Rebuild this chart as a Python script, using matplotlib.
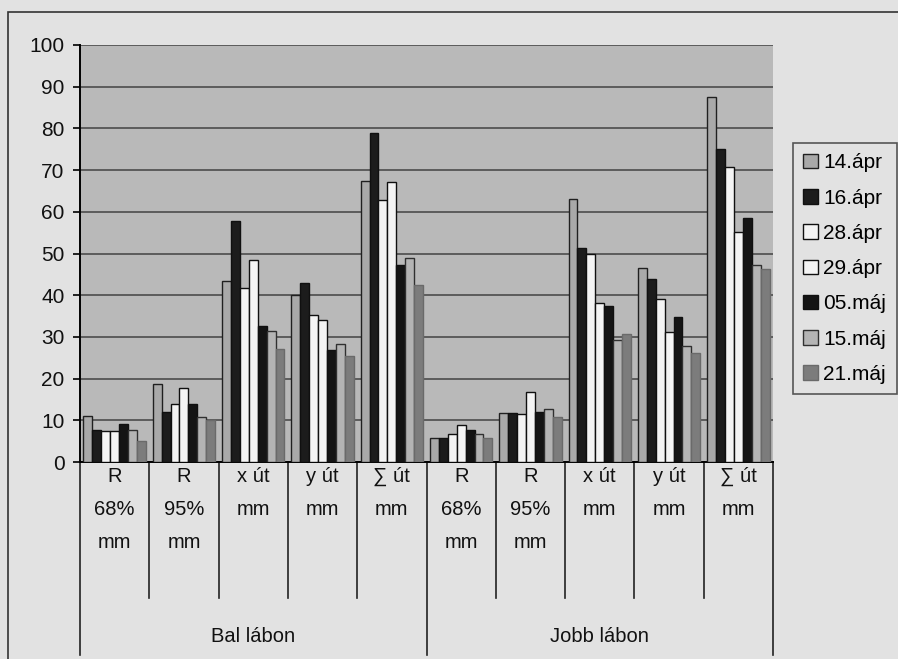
import numpy as np
import matplotlib
matplotlib.use("Agg")
from matplotlib import pyplot as plt
from matplotlib.patches import Rectangle
import matplotlib.transforms as mtransforms

plt.rcParams['font.family'] = ['Liberation Sans Narrow', 'Liberation Sans', 'DejaVu Sans']

# measurements per session, 10 categories (5 left foot, 5 right foot)
categories = ["R\n68%\nmm", "R\n95%\nmm", "x út\nmm", "y út\nmm", "∑ út\nmm",
              "R\n68%\nmm", "R\n95%\nmm", "x út\nmm", "y út\nmm", "∑ út\nmm"]
groups = ["Bal lábon", "Jobb lábon"]
dates = ["14.ápr", "16.ápr", "28.ápr", "29.ápr", "05.máj", "15.máj", "21.máj"]

apr14 = [11.0, 18.6, 43.3, 40.0, 67.3, 5.7, 11.8, 63.0, 46.5, 87.5]
apr16 = [7.7, 12.1, 57.8, 42.9, 79.0, 5.7, 11.8, 51.2, 43.8, 75.0]
apr28 = [7.5, 13.8, 41.7, 35.3, 62.9, 6.7, 11.4, 50.0, 39.1, 70.8]
apr29 = [7.5, 17.8, 48.5, 34.1, 67.1, 8.9, 16.9, 38.2, 31.1, 55.2]
maj05 = [9.1, 13.8, 32.5, 26.8, 47.3, 7.7, 12.1, 37.5, 34.8, 58.6]
maj15 = [7.7, 10.9, 31.3, 28.2, 48.9, 6.7, 12.7, 29.2, 27.8, 47.2]
maj21 = [5.0, 10.1, 27.0, 25.4, 42.5, 5.8, 10.9, 30.6, 26.2, 46.2]
series = [apr14, apr16, apr28, apr29, maj05, maj15, maj21]

colors = ["#a9a9a9", "#1c1c1c", "#f4f4f4", "#f4f4f4", "#141414", "#b4b4b4", "#7c7c7c"]
edges = ["#202020", "#101010", "#101010", "#101010", "#101010", "#303030", "#6a6a6a"]

fig = plt.figure(figsize=(8.98, 6.59), dpi=100)
fig.patch.set_facecolor("#e2e2e2")
ax = fig.add_axes([80 / 898, 1 - 462 / 659, 693 / 898, 417 / 659])
ax.set_facecolor("#b9b9b9")

n = len(categories)
x = np.arange(n)
width = 0.9 / len(series)
for i, vals in enumerate(series):
    off = (i - (len(series) - 1) / 2) * width
    ax.bar(x + off, vals, width=width, color=colors[i], edgecolor=edges[i],
           linewidth=1.0, label=dates[i], zorder=3)

ax.set_xlim(-0.5, n - 0.5)
ax.set_ylim(0, 100)
ax.set_yticks(range(0, 101, 10))
ax.yaxis.grid(True, color="#555555", linewidth=1.3, zorder=1)
ax.tick_params(axis="y", labelsize=15, length=5, width=1.2, direction="out",
               pad=6, labelcolor="#111111")
ax.set_xticks([])
for s in ["top", "right"]:
    ax.spines[s].set_visible(False)
ax.spines["left"].set_linewidth(1.4)
ax.spines["bottom"].set_linewidth(1.4)

# category axis: separators and labels below the plot
trans = mtransforms.blended_transform_factory(ax.transData, fig.transFigure)
y0 = 1 - 462 / 659
for b in np.arange(-0.5, n, 1.0):
    if b in (-0.5, 4.5, 9.5):
        y_end = 1 - 655 / 659
    else:
        y_end = 1 - 598 / 659
    ax.plot([b, b], [y0, y_end], color="#222222", linewidth=1.2,
            transform=trans, clip_on=False)
for xi, lab in zip(x, categories):
    ax.text(xi, 1 - 467 / 659, lab, transform=trans, ha="center", va="top",
            fontsize=14.5, linespacing=1.95, color="#111111")
for gi, g in enumerate(groups):
    ax.text(2 + 5 * gi, 1 - 636 / 659, g, transform=trans, ha="center",
            va="center", fontsize=14.5, color="#111111")

leg = fig.legend(loc="upper left", bbox_to_anchor=(793 / 898, 1 - 143 / 659),
                 fontsize=15, frameon=True, fancybox=False, handlelength=0.7,
                 handleheight=0.7, handletextpad=0.25, labelspacing=0.78,
                 borderpad=0.5, borderaxespad=0)
leg.get_frame().set_edgecolor("#333333")
leg.get_frame().set_facecolor("#e2e2e2")
leg.get_frame().set_linewidth(1.2)

# outer chart frame
fig.patches.append(Rectangle((8 / 898, -0.01), 1.0, 1 - 12 / 659 + 0.01,
                             transform=fig.transFigure, fill=False,
                             edgecolor="#333333", linewidth=1.2))

fig.savefig("out.png", dpi=100, facecolor=fig.get_facecolor())
